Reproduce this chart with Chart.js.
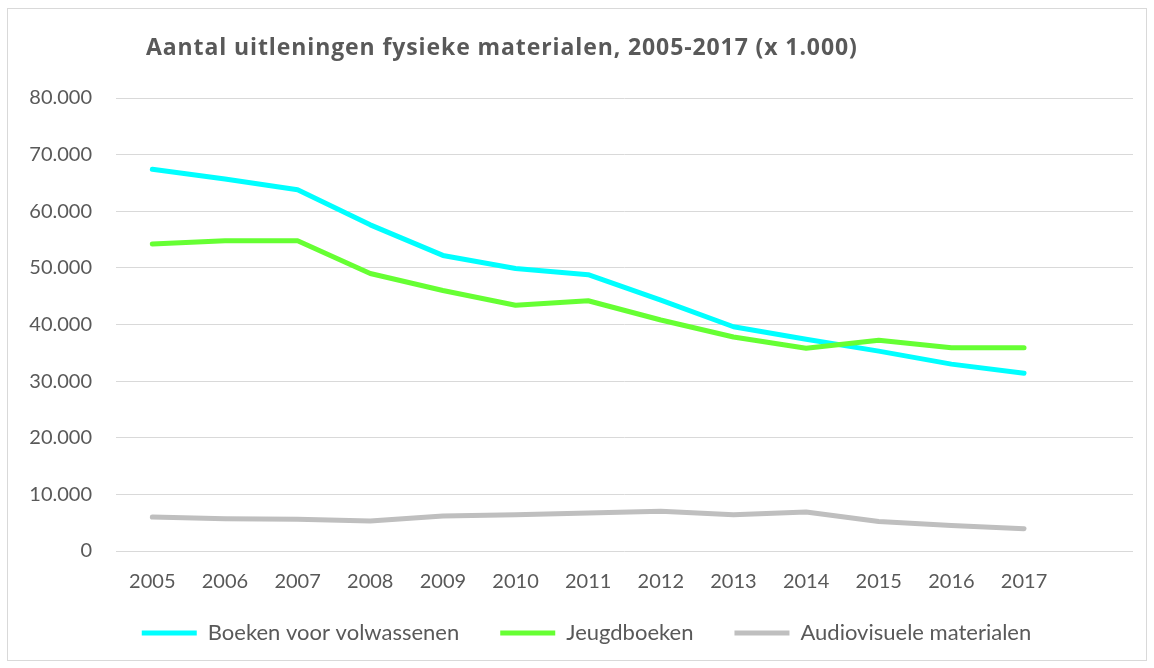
<!DOCTYPE html>
<html>
<head>
<meta charset="utf-8">
<script src="https://cdn.jsdelivr.net/npm/chart.js@4"></script>
<style>
    html, body {
        margin: 0;
        padding: 0;
        background: #ffffff;
    }

    #wrap {
        position: relative;
        width: 1154px;
        height: 668px;
    }

    #frame {
        position: absolute;
        left: 7px;
        top: 8px;
        width: 1138px;
        height: 651px;
        border: 1px solid #d9d9d9;
    }

    #title {
        position: absolute;
        left: 146px;
        top: 30px;
        margin: 0;
        font-family: "Open Sans", sans-serif;
        font-weight: bold;
        font-size: 23px;
        letter-spacing: 0.9px;
        line-height: 32px;
        color: #595959;
        white-space: nowrap;
    }

    #chart {
        position: absolute;
        left: 0;
        top: 0;
    }
</style>
</head>
<body>
<div id="wrap">
    <div id="frame"></div>
    <canvas id="chart" width="1154" height="668"></canvas>
    <h1 id="title">Aantal uitleningen fysieke materialen, 2005-2017 (x 1.000)</h1>
</div>

<script>
// Excel leaves one empty category slot after 2017
const years = ["2005", "2006", "2007", "2008", "2009", "2010", "2011", "2012", "2013", "2014", "2015", "2016", "2017", ""];

const boekenVolwassenen = [67400, 65700, 63800, 57600, 52200, 49900, 48800, 44300, 39600, 37400, 35300, 33000, 31400];
const jeugdboeken = [54200, 54800, 54800, 49000, 46000, 43400, 44200, 40800, 37800, 35800, 37200, 35900, 35900];
const audiovisueel = [6000, 5700, 5600, 5300, 6200, 6400, 6700, 7000, 6400, 6900, 5200, 4500, 3950];

const yTicks = [0, 10000, 20000, 30000, 40000, 50000, 60000, 70000, 80000];

const textColor = "#595959";
const gridColor = "#d9d9d9";
const fontFamily = "Lato, sans-serif";

function formatThousands(value) {
    return String(value).replace(/\B(?=(\d{3})+(?!\d))/g, ".");
}

// later series are painted on top, like in Excel
function makeSeries(label, data, color, order) {
    return {
        label: label,
        data: data,
        order: order,
        borderColor: color,
        backgroundColor: color,
        borderWidth: 5,
        borderCapStyle: "round",
        borderJoinStyle: "round",
        pointRadius: 0,
        pointHoverRadius: 0,
        pointStyle: "line",
        tension: 0,
        fill: false
    };
}

// nudge the legend box: a bit up and to the right, as in the original
const legendShift = {
    id: "legendShift",
    afterLayout(chart) {
        const legend = chart.legend;
        if (!legend) return;
        legend.left += 20;
        legend.right += 20;
        legend.top -= 12;
        legend.bottom -= 12;
    }
};

const ctx = document.getElementById("chart").getContext("2d");

const chart = new Chart(ctx, {
    type: "line",

    data: {
        labels: years,

        datasets: [
            makeSeries("Boeken voor volwassenen", boekenVolwassenen, "#00ffff", 3),
            makeSeries("Jeugdboeken", jeugdboeken, "#66ff33", 2),
            makeSeries("Audiovisuele materialen", audiovisueel, "#bfbfbf", 1)
        ]
    },

    plugins: [legendShift],

    options: {
        responsive: false,
        animation: false,
        devicePixelRatio: 1,

        layout: {
            padding: {
                left: 0,
                right: 21,
                top: 98,
                bottom: 2
            }
        },

        plugins: {
            title: {
                display: false
            },

            tooltip: {
                enabled: false
            },

            legend: {
                position: "bottom",
                labels: {
                    usePointStyle: true,
                    pointStyleWidth: 55,
                    color: textColor,
                    padding: 41,
                    font: {
                        family: fontFamily,
                        size: 22
                    },
                    sort: (a, b) => a.datasetIndex - b.datasetIndex
                }
            }
        },

        scales: {
            x: {
                offset: true,
                grid: {
                    display: false,
                    drawTicks: false
                },
                border: {
                    display: false
                },
                ticks: {
                    color: textColor,
                    padding: 19,
                    maxRotation: 0,
                    autoSkip: false,
                    font: {
                        family: fontFamily,
                        size: 20
                    }
                },
                afterFit: (scale) => {
                    scale.height = 42;
                }
            },

            y: {
                min: 0,
                max: 80000,
                afterBuildTicks: (scale) => {
                    scale.ticks = yTicks.map((v) => ({ value: v }));
                },
                grid: {
                    color: gridColor,
                    lineWidth: 1,
                    drawTicks: false
                },
                border: {
                    display: false
                },
                ticks: {
                    color: textColor,
                    padding: 24,
                    font: {
                        family: fontFamily,
                        size: 20
                    },
                    callback: (value) => formatThousands(value)
                },
                afterFit: (scale) => {
                    scale.width = 116;
                }
            }
        }
    }
});
</script>
</body>
</html>
